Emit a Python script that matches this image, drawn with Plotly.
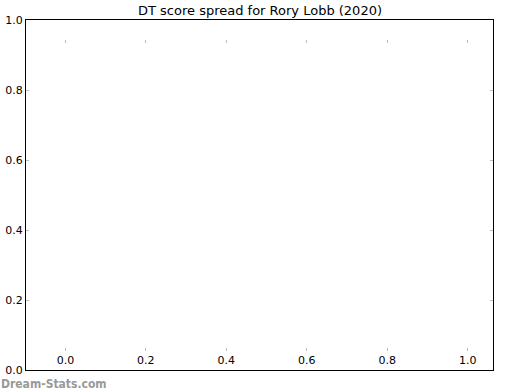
import plotly.graph_objects as go

# Data (the reference chart shows no plotted scores)
scores = []
x_ticks = [0.0, 0.2, 0.4, 0.6, 0.8, 1.0]
x_tick_labels = ["0.0", "0.2", "0.4", "0.6", "0.8", "1.0"]
y_ticks = [0.0, 0.2, 0.4, 0.6, 0.8, 1.0]
y_tick_labels = ["0.0", "0.2", "0.4", "0.6", "0.8", "1.0"]
title_text = "DT score spread for Rory Lobb (2020)"
watermark = "Dream-Stats.com"

x_range = [-0.098, 1.063]
y_range = [0.0, 1.0]

FONT = "DejaVu Sans"
TICKCOL = "#bbbbbb"

fig = go.Figure()
fig.add_trace(go.Scatter(x=list(range(len(scores))), y=scores, mode="markers",
                         showlegend=False, hoverinfo="skip"))

fig.update_layout(
    width=520, height=390,
    margin=dict(l=26, r=27, t=20, b=20, pad=0, autoexpand=False),
    paper_bgcolor="white", plot_bgcolor="white",
    font=dict(family=FONT, size=11, color="black"),
    title=dict(text=title_text, x=0.5, xanchor="center", y=0.972, yanchor="middle",
               font=dict(family=FONT, size=13, color="black")),
    showlegend=False,
    xaxis=dict(range=x_range, showgrid=False, zeroline=False, showline=True,
               linecolor="black", linewidth=1, mirror=True, ticks="",
               showticklabels=False, fixedrange=True, automargin=False),
    xaxis2=dict(range=x_range, matches="x", overlaying="x", anchor="free",
                position=(370 - 347) / 350,
                showgrid=False, zeroline=False, showline=False, automargin=False,
                tickvals=x_ticks, ticktext=x_tick_labels, ticks="outside",
                ticklen=3, tickwidth=1, tickcolor=TICKCOL, side="bottom",
                tickfont=dict(family=FONT, size=11, color="black")),
    xaxis3=dict(range=x_range, matches="x", overlaying="x", anchor="free",
                position=(370 - 39) / 350,
                showgrid=False, zeroline=False, showline=False, automargin=False,
                tickvals=x_ticks, ticks="outside", ticklen=3, tickwidth=1,
                tickcolor=TICKCOL, showticklabels=False, side="bottom"),
    yaxis=dict(range=y_range, showgrid=False, zeroline=False, showline=True,
               linecolor="black", linewidth=1, mirror="ticks", automargin=False,
               tickvals=y_ticks, ticktext=y_tick_labels, ticks="inside",
               ticklen=3, tickwidth=1, tickcolor=TICKCOL,
               tickfont=dict(family=FONT, size=11, color="black"), fixedrange=True),
)

# empty traces to activate the extra x axes
fig.add_trace(go.Scatter(x=[], y=[], xaxis="x2", showlegend=False))
fig.add_trace(go.Scatter(x=[], y=[], xaxis="x3", showlegend=False))

fig.add_annotation(text="<b>" + watermark + "</b>", xref="paper", yref="paper", x=0, y=0,
                   xshift=-26, yshift=-22, xanchor="left", yanchor="bottom",
                   showarrow=False, borderpad=0,
                   font=dict(family="DejaVu Sans Condensed, DejaVu Sans", size=12,
                             color="#999999"))

fig.write_html("out.html")
